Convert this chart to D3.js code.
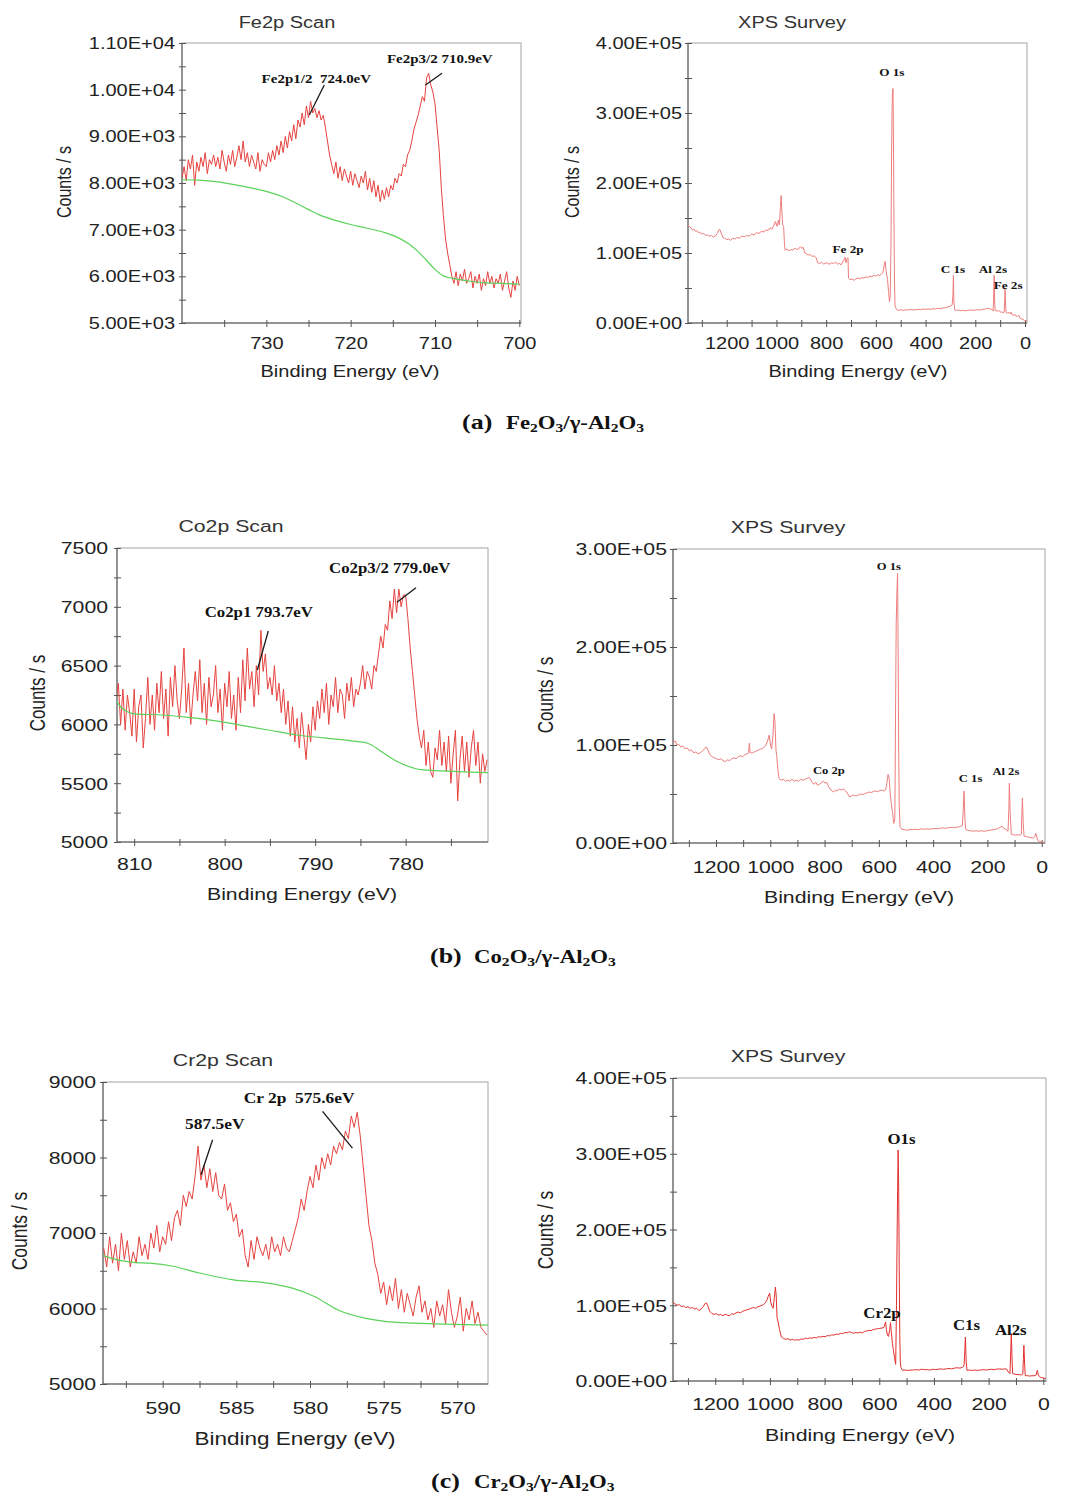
<!DOCTYPE html>
<html>
<head>
<meta charset="utf-8">
<script src="https://cdn.jsdelivr.net/npm/d3@7"></script>
<style>
  body { margin: 0; background: #fff; }
  svg { display: block; }
</style>
</head>
<body>
<script>
// ---- data ----
const scanStepFe = 0.25, feScanStart = 740;
const feScanCounts = [
  8100, 8350, 8050, 8500, 8300, 8600, 7950, 8450, 8250, 8550, 8350, 8650,
  8200, 8500, 8400, 8600, 8350, 8550, 8300, 8700, 8450, 8250, 8600, 8400,
  8700, 8350, 8550, 8800, 8500, 8900, 8450, 8650, 8350, 8600, 8450, 8300,
  8650, 8250, 8500, 8400, 8350, 8650, 8450, 8700, 8500, 8800, 8600, 8900,
  8650, 9000, 8750, 9100, 8900, 9250, 8950, 9350, 9200, 9500, 9250, 9650,
  9400, 9750, 9500, 9600, 9400, 9550, 9350, 9450, 9200, 8900, 8600, 8400,
  8200, 8450, 8100, 8350, 8050, 8300, 8150, 8000, 8250, 7950, 8200, 8050,
  7900, 8150, 8000, 8250, 7850, 8100, 7800, 8050, 7700, 7950, 7600, 7850,
  7650, 7900, 7700, 7950, 7850, 8100, 8000, 8200, 8150, 8400, 8350, 8600,
  8700, 8900, 9150, 9300, 9450, 9650, 9850, 9750, 10250, 10350, 10100, 9950,
  9700, 9200, 8700, 7900, 7300, 6800, 6500, 6250, 6000, 5850, 6100, 5800,
  6050, 5900, 6150, 5850, 5950, 6100, 5750, 6000, 5850, 6050, 5700, 5950,
  5800, 6100, 5850, 6000, 5750, 5950, 5850, 6050, 5700, 5900, 6100, 5750,
  5550, 5900, 5700, 6000, 5800
];
const feBackground = [
  [740, 8070], [738, 8060], [736, 8030], [734, 7970], [732, 7900], [730, 7820],
  [728, 7700], [726.5, 7570], [725, 7430], [723.5, 7300], [722, 7210], [720, 7110],
  [718, 7030], [716, 6940], [714.5, 6840], [713, 6680], [712, 6530], [711, 6340],
  [710, 6150], [709, 6010], [708, 5960], [706, 5900], [704, 5860], [702, 5850], [700, 5830]
];

const scanStepCo = 0.25, coScanStart = 812;
const coScanCounts = [
  6200, 6350, 6000, 6300, 5950, 6250, 6100, 5900, 6300, 5850, 6150, 6250,
  5800, 6050, 6400, 6000, 6250, 5950, 6350, 6100, 6450, 6050, 6300, 5900,
  6400, 6150, 6500, 6200, 6050, 6300, 6650, 6100, 6350, 6000, 6250, 6450,
  6200, 6550, 6100, 6350, 6000, 6400, 6150, 6250, 6500, 6100, 6300, 5950,
  6350, 6150, 6450, 6050, 6250, 5950, 6400, 6100, 6550, 6200, 6650, 6300,
  6450, 6150, 6500, 6250, 6800, 6450, 6600, 6300, 6400, 6250, 6500, 6200,
  6350, 6100, 6300, 6000, 6200, 5900, 6150, 5850, 6050, 5800, 6100, 5900,
  5700, 6000, 5850, 6150, 5950, 6200, 6050, 6300, 6100, 6350, 6000, 6250,
  6150, 6400, 6100, 6300, 6250, 6050, 6350, 6200, 6400, 6150, 6300, 6250,
  6350, 6500, 6300, 6450, 6400, 6300, 6500, 6450, 6600, 6750, 6650, 6850,
  6800, 7050, 6900, 7150, 6950, 7150, 7000, 7100, 7100, 6900, 6650, 6450,
  6250, 6050, 5900, 5800, 5950, 5650, 5850, 5600, 5550, 5800, 5700, 5950,
  5650, 5850, 5600, 5900, 5500, 5750, 5950, 5350, 5700, 5900, 5600, 5850,
  5550, 5800, 5950, 5650, 5850, 5500, 5750, 5600, 5700
];
const coBackground = [
  [812.2, 6230], [811.5, 6150], [810.8, 6110], [810, 6090], [807, 6080], [804, 6060],
  [801, 6030], [798, 5990], [795, 5950], [792, 5910], [789, 5885], [786, 5860],
  [784.2, 5840], [782.7, 5770], [781.3, 5700], [779.8, 5646], [778.3, 5615],
  [776, 5605], [773, 5595], [770.9, 5590]
];

const scanStepCr = 0.2, crScanStart = 594;
const crScanCounts = [
  6800, 6550, 6950, 6600, 6850, 6500, 7000, 6650, 6900, 6550,
  6750, 6600, 6950, 6700, 6850, 6650, 7000, 6800, 7100, 6750,
  6950, 6850, 7150, 6900, 7200, 7300, 7100, 7500, 7350, 7550,
  7450, 7750, 8150, 7700, 7900, 7600, 7850, 7550, 7800, 7500,
  7450, 7650, 7300, 7400, 7150, 7250, 6950, 7050, 6700, 6550,
  6900, 6650, 6950, 6800, 6700, 6850, 6650, 6950, 6750, 6850,
  6700, 6950, 6800, 6750, 6900, 7050, 7200, 7450, 7300, 7550,
  7750, 7600, 7900, 7700, 8000, 7850, 8050, 7900, 8150, 8050,
  8200, 8100, 8350, 8250, 8550, 8400, 8600, 8300, 7900, 7500,
  7100, 6900, 6600, 6450, 6200, 6350, 6050, 6300, 6100, 6400,
  6000, 6250, 5950, 6200, 6050, 5900, 6150, 6300, 5950, 6100,
  5850, 6000, 5750, 6100, 5900, 6050, 5800, 6250, 5950, 5750,
  5900, 6150, 5700, 6000, 5850, 6100, 5800, 5950, 5750, 5700,
  5650
];
const crBackground = [
  [594.2, 6710], [593, 6640], [592, 6610], [590.9, 6600], [589.3, 6560], [587.5, 6470],
  [585.2, 6380], [583, 6340], [581.2, 6270], [579.7, 6160], [578.1, 5980], [576.2, 5870],
  [574.9, 5830], [572.9, 5805], [567.9, 5780]
];

const feSurvey = [
  [1356,140000],[1350,138000],[1344,136000],[1338,133000],[1332,134000],[1326,131000],[1320,132000],
  [1314,129000],[1308,130000],[1300,127000],[1292,128000],[1285,125000],[1278,126000],[1270,124000],
  [1262,125000],[1254,123000],[1246,124000],[1238,128000],[1232,133000],[1228,134000],[1222,128000],
  [1215,122000],[1208,121000],[1200,119000],[1192,120000],[1184,118000],[1176,121000],[1168,120000],
  [1160,122000],[1150,121000],[1140,124000],[1130,123000],[1120,125000],[1110,124000],[1100,127000],
  [1090,126000],[1080,129000],[1070,128000],[1060,131000],[1050,130000],[1042,133000],[1034,132000],
  [1026,136000],[1018,134000],[1010,140000],[1004,145000],[998,138000],[992,147000],[988,140000],
  [984,165000],[981,182000],[978,160000],[975,140000],[971,138000],[968,115000],[965,104000],
  [958,106000],[950,103000],[942,105000],[934,104000],[926,107000],[918,105000],[910,106000],
  [904,109000],[898,107000],[892,108000],[886,100000],[880,99000],[872,97000],[864,98000],
  [856,95000],[848,96000],[840,93000],[834,86000],[826,85000],[818,87000],[810,84000],[802,86000],
  [794,85000],[786,84000],[778,86000],[770,85000],[762,87000],[754,84000],[746,85000],[740,83000],
  [734,87000],[728,90000],[724,94000],[720,86000],[716,92000],[712,93000],[710,64000],[704,62000],
  [696,63000],[688,61000],[680,63000],[672,64000],[664,63000],[656,65000],[648,64000],[640,66000],
  [632,65000],[624,67000],[616,66000],[608,68000],[600,67000],[592,69000],[584,68000],[578,70000],
  [572,72000],[566,83000],[563,88000],[560,78000],[557,70000],[553,62000],[549,45000],[545,30000],
  [542,40000],[539,120000],[537,230000],[535,300000],[533,330000],[531,335000],[529,250000],
  [527,140000],[525,60000],[523,25000],[518,20000],[510,18000],[500,19000],[490,18000],[480,19000],
  [470,18500],[460,19500],[450,18500],[440,19000],[430,19500],[420,19000],[410,20000],[400,19500],
  [390,20000],[380,19500],[370,20500],[360,20000],[350,21000],[340,20500],[330,21500],[320,22000],
  [310,23000],[300,24000],[293,26000],[290,40000],[288,68000],[286,30000],[283,19000],[276,18000],
  [268,18500],[260,17500],[250,18000],[240,17500],[230,18000],[220,18500],[210,18000],[200,18500],
  [190,19000],[180,18500],[170,19500],[160,20000],[150,21000],[140,20000],[132,19000],[128,17000],
  [126,40000],[124,68000],[122,30000],[120,18000],[112,17000],[106,18000],[100,16000],[94,15500],
  [88,15000],[84,15500],[82,30000],[80,49000],[78,25000],[76,15000],[70,14000],[64,15000],
  [60,13000],[56,15500],[52,12000],[46,11000],[40,12000],[36,10000],[30,9500],[25,11000],
  [20,7000],[14,6000],[8,5000],[2,3500],[-8,3000]
];

const coSurvey = [
  [1358,103000],[1350,104000],[1344,100000],[1338,101000],[1330,98000],[1322,99000],[1314,96000],
  [1306,97000],[1298,94000],[1290,95000],[1282,92000],[1274,93000],[1266,91000],[1258,92000],
  [1250,94000],[1242,96000],[1236,98000],[1230,95000],[1222,90000],[1214,88000],[1206,87000],
  [1198,86000],[1190,85000],[1182,86000],[1174,84000],[1166,83000],[1158,85000],[1150,84000],
  [1142,86000],[1134,87000],[1126,86000],[1118,88000],[1110,89000],[1102,88000],[1094,90000],
  [1086,91000],[1080,92000],[1077,102000],[1074,92000],[1066,92000],[1058,93000],[1050,94000],
  [1042,95000],[1034,96000],[1026,97000],[1018,99000],[1010,104000],[1004,110000],[999,100000],
  [995,96000],[990,110000],[986,132000],[983,125000],[979,95000],[976,88000],[972,75000],
  [968,66000],[960,64000],[952,65000],[944,63000],[936,64000],[928,63000],[920,65000],[912,63000],
  [904,64000],[896,63000],[888,65000],[880,64000],[872,65000],[864,66000],[856,67000],[850,64000],
  [844,61000],[838,60000],[832,62000],[826,59000],[818,60000],[810,62000],[804,63000],[798,61000],
  [792,62000],[786,58000],[780,55000],[772,53000],[766,52000],[760,54000],[754,53000],[746,55000],
  [738,54000],[730,55000],[722,53000],[714,50000],[708,47000],[700,48000],[692,49000],[684,48000],
  [676,49000],[668,50000],[660,49500],[652,50500],[644,51000],[636,52000],[628,51500],[620,52500],
  [612,53000],[604,52500],[596,53500],[588,54000],[580,53000],[574,55000],[570,62000],[566,70000],
  [562,66000],[558,50000],[554,40000],[549,30000],[545,20000],[541,25000],[538,150000],[536,224000],
  [533,260000],[531,275000],[529,200000],[527,102000],[525,40000],[522,17000],[515,14000],
  [505,13500],[495,13000],[485,14000],[475,13500],[465,14000],[455,13500],[445,14500],[435,14000],
  [425,14500],[415,14000],[405,14500],[395,15000],[385,14500],[375,15000],[365,15500],[355,15000],
  [345,15500],[335,16000],[325,15500],[315,16000],[305,16500],[298,17000],[292,18000],[289,35000],
  [286,53000],[283,25000],[280,14000],[272,13000],[262,12500],[252,12000],[242,12500],[232,12000],
  [222,12500],[212,12000],[202,12500],[192,13000],[182,13500],[172,14000],[162,14500],[154,16000],
  [146,17000],[140,15000],[134,14000],[128,13000],[124,12000],[121,35000],[119,61000],[116,30000],
  [112,9000],[104,8500],[96,8000],[88,8500],[80,8000],[75,9000],[73,30000],[71,46000],[68,20000],
  [65,7000],[56,6500],[48,6000],[40,5500],[31,5000],[25,6500],[22,10000],[19,7000],[14,2500],
  [8,1500],[0,1000],[-8,700],[-12,600]
];

const crSurvey = [
  [1355,104000],[1348,102000],[1340,100000],[1332,101000],[1324,98000],[1316,99000],[1308,97000],
  [1300,98000],[1292,96000],[1284,97000],[1276,95000],[1268,96000],[1260,93000],[1252,95000],
  [1244,98000],[1238,102000],[1232,103000],[1226,98000],[1220,92000],[1212,89000],[1204,88000],
  [1196,89000],[1188,87000],[1180,88000],[1172,86000],[1164,88000],[1156,87000],[1148,86000],
  [1140,89000],[1132,88000],[1124,90000],[1116,91000],[1108,90000],[1100,92000],[1092,93000],
  [1084,94000],[1076,95000],[1068,96000],[1060,97000],[1052,96000],[1044,98000],[1036,99000],
  [1028,100000],[1020,102000],[1012,106000],[1006,112000],[1001,116000],[997,104000],[992,98000],
  [988,96000],[984,110000],[980,124000],[977,112000],[974,84000],[970,78000],[965,68000],
  [958,58000],[950,56000],[942,55000],[934,56000],[926,54000],[918,55000],[910,54000],[902,54500],
  [894,54000],[886,55500],[878,55000],[870,56500],[862,56000],[854,57000],[846,56500],[838,57500],
  [830,57000],[822,58500],[814,58000],[806,59000],[798,58500],[790,60000],[782,59500],[774,61000],
  [766,60500],[758,62000],[750,61500],[742,63000],[734,62500],[726,64000],[718,63500],[710,65000],
  [702,64000],[694,63000],[686,64000],[678,63500],[670,64500],[662,63500],[654,65500],[646,66000],
  [638,67000],[630,66500],[622,68000],[614,68500],[606,69000],[598,69500],[590,70000],[584,70500],
  [580,74000],[577,78000],[574,68000],[570,60000],[566,59000],[562,68000],[559,77000],[556,65000],
  [552,50000],[548,40000],[544,30000],[540,22000],[537,100000],[535,182000],[533,250000],
  [531,305000],[529,256000],[527,150000],[525,60000],[523,25000],[521,18000],[515,14000],
  [505,14500],[495,14000],[485,14500],[475,14500],[465,15000],[455,14500],[445,15500],[435,15000],
  [425,15000],[415,14500],[405,15500],[395,15000],[385,15500],[375,16000],[365,15500],[355,16000],
  [345,16500],[335,16000],[325,17000],[315,17500],[305,17000],[296,18000],[290,20000],[287,40000],
  [285,58000],[282,25000],[279,14000],[270,14500],[260,14000],[250,14500],[240,14000],[230,14500],
  [220,15000],[210,14500],[200,15000],[190,15500],[180,15000],[171,15600],[160,16000],[150,15500],
  [140,16000],[134,15600],[128,12000],[122,9700],[119,40000],[117,62700],[114,25000],[112,9700],
  [104,9000],[96,8500],[88,8400],[80,8000],[75,9000],[73,28000],[71,47000],[68,20000],[66,7000],
  [58,7000],[50,6500],[42,7000],[34,6800],[26,8000],[22,14000],[18,8000],[14,5700],[8,4500],
  [0,4000],[-6,3500],[-10,3300]
];

// annotations: text anchored at (binding energy, counts), pointer lines [e1, c1, e2, c2]
const feScanNotes = [
  { text: "Fe2p1/2  724.0eV", e: 730.56, c: 10142 },
  { text: "Fe2p3/2 710.9eV", e: 715.7, c: 10571 }
];
const feScanPointers = [[723.13, 10100, 724.9, 9457], [709.17, 10350, 711.13, 10100]];
const coScanNotes = [
  { text: "Co2p3/2 779.0eV", e: 788.46, c: 7285 },
  { text: "Co2p1 793.7eV", e: 802.21, c: 6916 }
];
const coScanPointers = [[778.86, 7162, 780.96, 7038], [795.18, 6794, 796.39, 6463]];
const crScanNotes = [
  { text: "Cr 2p  575.6eV", e: 584.5, c: 8721 },
  { text: "587.5eV", e: 588.48, c: 8377 }
];
const crScanPointers = [[579.15, 8610, 577.12, 8125], [586.61, 8235, 587.40, 7771]];

const feSurveyNotes = [
  { text: "O 1s", e: 536, c: 353000 }, { text: "Fe 2p", e: 712, c: 99600 },
  { text: "C 1s", e: 290, c: 71000 }, { text: "Al 2s", e: 129, c: 71000 },
  { text: "Fe 2s", e: 68, c: 48100 }
];
const coSurveyNotes = [
  { text: "O 1s", e: 563, c: 278600 }, { text: "Co 2p", e: 784, c: 70600 },
  { text: "C 1s", e: 262, c: 62500 }, { text: "Al 2s", e: 132, c: 69600 }
];
const crSurveyNotes = [
  { text: "O1s", e: 519, c: 313100 }, { text: "Cr2p", e: 590, c: 82900 },
  { text: "C1s", e: 281, c: 67100 }, { text: "Al2s", e: 119, c: 60400 }
];

const captionTags = ["(a)", "(b)", "(c)"];
const captionMetals = ["Fe", "Co", "Cr"];

// binding-energy grid of the narrow scans
const feScan = feScanCounts.map((c, i) => [feScanStart - i * scanStepFe, c]);
const coScan = coScanCounts.map((c, i) => [coScanStart - i * scanStepCo, c]);
const crScan = crScanCounts.map((c, i) => [crScanStart - i * scanStepCr, c]);

// ---- drawing ----
const SX = 1.25; // the printed figure is stretched horizontally
const sans = '"Liberation Sans", Arial, sans-serif';
const serif = '"Liberation Serif", "Times New Roman", serif';
const svg = d3.select("body").append("svg").attr("width", 1067).attr("height", 1497);

function sciLabel(v) {
  const [m, e] = v.toExponential(2).split("e");
  const n = +e;
  return `${m}E${n < 0 ? "-" : "+"}${String(Math.abs(n)).padStart(2, "0")}`;
}

function hText(g, x, y, str, size, opts = {}) {
  return g.append("text")
    .attr("transform", `translate(${x},${y}) scale(${opts.sx || SX},1)`)
    .attr("text-anchor", opts.anchor || "middle")
    .attr("fill", opts.fill || "#222")
    .style("font-family", opts.family || sans)
    .style("font-size", `${size}px`)
    .style("font-weight", opts.weight || "normal")
    .style("white-space", "pre")
    .text(str);
}

const surveyTicks = d3.range(1300, -1, -100);

const panels = [
  { id: "fe-scan", left: 182, top: 43, right: 521, bottom: 323, xDomain: [740, 699.8], yDomain: [5000, 11000],
    xTicks: d3.range(735, 699, -5), xMajor: d => d % 10 === 0, yTicks: d3.range(5000, 11001, 500),
    yMajor: d => d % 1000 === 0, yFormat: sciLabel, fs: 16, xGap: 15, yGap: 7,
    title: "Fe2p Scan", titleX: 287, titleY: 28, titleFs: 16, xLabelX: 350, xLabelY: 377, labelFs: 16,
    yLabelX: 71, yLabelY: 182, yLabelFs: 16, spectrum: feScan, background: feBackground, color: "#e5433f",
    notes: feScanNotes, pointers: feScanPointers, noteFs: 12.5, noteAnchor: "start" },
  { id: "fe-survey", left: 688, top: 43, right: 1027, bottom: 323, xDomain: [1355.7, -8], yDomain: [0, 400000],
    xTicks: surveyTicks, xMajor: d => d % 200 === 0, yTicks: d3.range(0, 400001, 50000),
    yMajor: d => d % 100000 === 0, yFormat: sciLabel, fs: 16, xGap: 15, yGap: 6,
    title: "XPS Survey", titleX: 792, titleY: 28, titleFs: 16, xLabelX: 858, xLabelY: 377, labelFs: 16,
    yLabelX: 579, yLabelY: 182, yLabelFs: 16, spectrum: feSurvey, color: "#ee7d7d",
    notes: feSurveyNotes, noteFs: 11, noteAnchor: "middle" },
  { id: "co-scan", left: 117, top: 548, right: 488, bottom: 842, xDomain: [811.9, 770.9], yDomain: [5000, 7500],
    xTicks: d3.range(810, 774, -5), xMajor: d => d % 10 === 0, yTicks: d3.range(5000, 7501, 250),
    yMajor: d => d % 500 === 0, yFormat: d3.format("d"), fs: 17, xGap: 16, yGap: 9,
    title: "Co2p Scan", titleX: 231, titleY: 532, titleFs: 17, xLabelX: 302, xLabelY: 900, labelFs: 17,
    yLabelX: 45, yLabelY: 693, yLabelFs: 17, spectrum: coScan, background: coBackground, color: "#e5433f",
    notes: coScanNotes, pointers: coScanPointers, noteFs: 14, noteAnchor: "start" },
  { id: "co-survey", left: 673, top: 549, right: 1045, bottom: 843, xDomain: [1358.4, -12.2], yDomain: [0, 300000],
    xTicks: surveyTicks, xMajor: d => d % 200 === 0, yTicks: d3.range(0, 300001, 50000),
    yMajor: d => d % 100000 === 0, yFormat: sciLabel, fs: 17, xGap: 18, yGap: 6,
    title: "XPS Survey", titleX: 788, titleY: 533, titleFs: 17, xLabelX: 859, xLabelY: 903, labelFs: 17,
    yLabelX: 553, yLabelY: 695, yLabelFs: 17, spectrum: coSurvey, color: "#ee7d7d",
    notes: coSurveyNotes, noteFs: 10.5, noteAnchor: "middle" },
  { id: "cr-scan", left: 103, top: 1082, right: 488, bottom: 1384, xDomain: [594.05, 567.92], yDomain: [5000, 9000],
    xTicks: d3.range(592.5, 567.9, -2.5), xMajor: d => d % 5 === 0, yTicks: d3.range(5000, 9001, 500),
    yMajor: d => d % 1000 === 0, yFormat: d3.format("d"), fs: 17, xGap: 18, yGap: 7,
    title: "Cr2p Scan", titleX: 223, titleY: 1066, titleFs: 17, xLabelX: 295, xLabelY: 1445, labelFs: 18,
    yLabelX: 27, yLabelY: 1231, yLabelFs: 17.5, spectrum: crScan, background: crBackground, color: "#e5433f",
    notes: crScanNotes, pointers: crScanPointers, noteFs: 14.5, noteAnchor: "start" },
  { id: "cr-survey", left: 673, top: 1078, right: 1046, bottom: 1381, xDomain: [1354.6, -9.9], yDomain: [0, 400000],
    xTicks: surveyTicks, xMajor: d => d % 200 === 0, yTicks: d3.range(0, 400001, 50000),
    yMajor: d => d % 100000 === 0, yFormat: sciLabel, fs: 17, xGap: 17, yGap: 6,
    title: "XPS Survey", titleX: 788, titleY: 1062, titleFs: 17, xLabelX: 860, xLabelY: 1441, labelFs: 17,
    yLabelX: 553, yLabelY: 1230, yLabelFs: 17.5, spectrum: crSurvey, color: "#e2302e",
    notes: crSurveyNotes, noteFs: 14, noteAnchor: "middle" }
];

function drawPanel(p) {
  const x = d3.scaleLinear().domain(p.xDomain).range([p.left, p.right]);
  const y = d3.scaleLinear().domain(p.yDomain).range([p.bottom, p.top]);
  const g = svg.append("g").attr("id", p.id);

  g.append("clipPath").attr("id", `${p.id}-clip`)
    .append("rect")
    .attr("x", p.left).attr("y", p.top)
    .attr("width", p.right - p.left).attr("height", p.bottom - p.top);

  g.append("rect")
    .attr("x", p.left).attr("y", p.top)
    .attr("width", p.right - p.left).attr("height", p.bottom - p.top)
    .attr("fill", "none").attr("stroke", "#a4a4a4");

  const xAxis = d3.axisBottom(x).tickValues(p.xTicks).tickFormat(d => p.xMajor(d) ? d : "");
  const gx = g.append("g").attr("class", "axis x")
    .attr("transform", `translate(0,${p.bottom})`).call(xAxis);
  gx.select(".domain").remove();
  gx.selectAll(".tick line").attr("y1", -3).attr("y2", 4).attr("stroke", "#555");
  gx.selectAll(".tick text")
    .attr("y", p.xGap).attr("dy", "0.71em")
    .attr("transform", `scale(${SX},1)`)
    .attr("fill", "#222")
    .style("font-family", sans).style("font-size", `${p.fs}px`);

  const yAxis = d3.axisLeft(y).tickValues(p.yTicks).tickFormat(d => p.yMajor(d) ? p.yFormat(d) : "");
  const gy = g.append("g").attr("class", "axis y")
    .attr("transform", `translate(${p.left},0)`).call(yAxis);
  gy.select(".domain").remove();
  gy.selectAll(".tick line").attr("x1", -3).attr("x2", 4).attr("stroke", "#555");
  gy.selectAll(".tick text")
    .attr("x", -p.yGap / SX).attr("dy", "0.35em")
    .attr("transform", `scale(${SX},1)`)
    .attr("fill", "#222")
    .style("font-family", sans).style("font-size", `${p.fs}px`);

  g.append("line").attr("x1", p.left).attr("x2", p.left).attr("y1", p.top).attr("y2", p.bottom)
    .attr("stroke", "#555");
  g.append("line").attr("x1", p.left).attr("x2", p.right).attr("y1", p.bottom).attr("y2", p.bottom)
    .attr("stroke", "#555");

  const line = d3.line().x(d => x(d[0])).y(d => y(d[1]));
  g.append("path").datum(p.spectrum)
    .attr("d", line)
    .attr("clip-path", `url(#${p.id}-clip)`)
    .attr("fill", "none").attr("stroke", p.color)
    .attr("stroke-width", 1).attr("stroke-linejoin", "round");

  if (p.background) {
    const smooth = d3.line().x(d => x(d[0])).y(d => y(d[1])).curve(d3.curveMonotoneX);
    g.append("path").datum(p.background)
      .attr("d", smooth)
      .attr("clip-path", `url(#${p.id}-clip)`)
      .attr("fill", "none").attr("stroke", "#5ad25a").attr("stroke-width", 1.2);
  }

  (p.pointers || []).forEach(l => {
    g.append("line")
      .attr("x1", x(l[0])).attr("y1", y(l[1]))
      .attr("x2", x(l[2])).attr("y2", y(l[3]))
      .attr("stroke", "#1a1a1a").attr("stroke-width", 1.3);
  });

  p.notes.forEach(n => hText(g, x(n.e), y(n.c), n.text, p.noteFs, {
    anchor: p.noteAnchor, family: serif, weight: "bold", fill: "#111", sx: 1.2
  }));

  hText(g, p.titleX, p.titleY, p.title, p.titleFs, { fill: "#333" });
  hText(g, p.xLabelX, p.xLabelY, "Binding Energy (eV)", p.labelFs, { fill: "#222" });

  g.append("text")
    .attr("transform", `translate(${p.yLabelX},${p.yLabelY}) rotate(-90) scale(1,${SX})`)
    .attr("text-anchor", "middle")
    .attr("fill", "#222")
    .style("font-family", sans)
    .style("font-size", `${p.yLabelFs}px`)
    .text("Counts / s");
}

panels.forEach(drawPanel);

// figure captions: (a) Fe2O3/γ-Al2O3 ...
const captionPos = [
  { tagX: 462, formulaX: 506, y: 429 },
  { tagX: 430, formulaX: 474, y: 963 },
  { tagX: 431, formulaX: 474, y: 1488 }
];
captionTags.forEach((tag, i) => {
  const pos = captionPos[i];
  hText(svg, pos.tagX, pos.y, tag, 20, { anchor: "start", family: serif, weight: "bold", fill: "#111", sx: 1.3 });
  const t = hText(svg, pos.formulaX, pos.y, null, 19, { anchor: "start", family: serif, weight: "bold", fill: "#111", sx: 1.2 });
  const parts = [[captionMetals[i], 0], ["2", 1], ["O", 0], ["3", 1], ["/γ-Al", 0], ["2", 1], ["O", 0], ["3", 1]];
  let sub = false;
  parts.forEach(([s, isSub]) => {
    const ts = t.append("tspan").text(s);
    if (isSub && !sub) ts.attr("dy", 3).style("font-size", "13px");
    else if (isSub) ts.style("font-size", "13px");
    else if (sub) ts.attr("dy", -3);
    sub = !!isSub;
  });
});
</script>
</body>
</html>
